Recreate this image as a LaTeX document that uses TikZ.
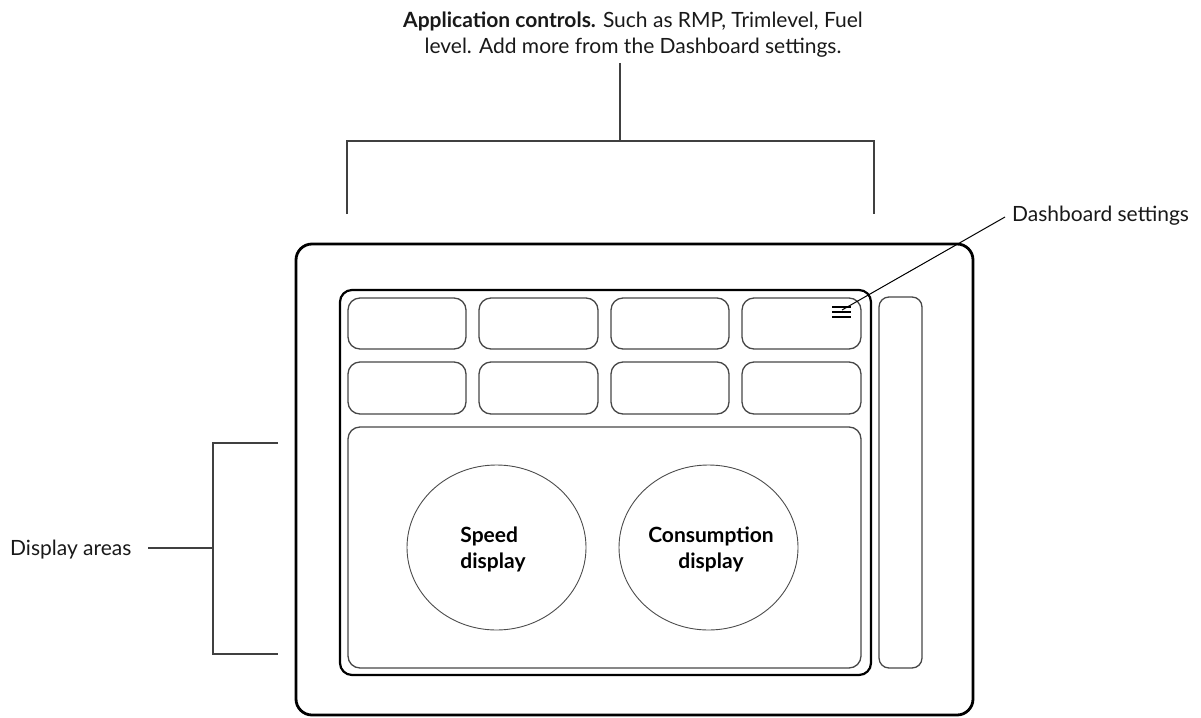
\documentclass[tikz,border=0pt]{standalone}
\usepackage{fontspec}
\setmainfont{Lato}
\usetikzlibrary{shapes.geometric}
\begin{document}
\begin{tikzpicture}[x=1pt,y=-1pt,
  frame/.style={draw=black, line width=2.8pt, rounded corners=16pt},
  panel/.style={draw=black, line width=2.2pt, rounded corners=12pt},
  tile/.style={draw=black!72, line width=1.3pt, rounded corners=12pt},
  brk/.style={draw=black!75, line width=1.2pt},
  lbl/.style={font=\fontsize{21}{26}\selectfont, inner sep=0pt, text=black!90},
  gauge/.style={ellipse, draw=black!70, line width=0.9pt, minimum width=179pt, minimum height=165pt, inner sep=0pt},
  gtext/.style={inner sep=0pt, font=\bfseries\fontsize{21}{26}\selectfont},
  menuline/.style={draw=black, line width=2pt}]
\useasboundingbox (0,0) rectangle (1201,717);
% device
\draw[frame] (296,244) rectangle (973,715);
\draw[panel] (340,290) rectangle (871,675);
% tiles
\foreach \xa/\xb [count=\i] in {348/466,479/598,611/729,742/861}{
  \draw[tile] (\xa,298) rectangle (\xb,349);
  \draw[tile] (\xa,362) rectangle (\xb,414);
}
\draw[tile] (348,427) rectangle (861,668);
\draw[tile, rounded corners=10pt] (879,297) rectangle (922,668);
% gauges
\node[gauge] (speed) at (496.5,547.5) {};
\node[gauge] (cons) at (708.5,547.5) {};
\node[gtext, align=left] (speedlbl) at (493,549) {Speed\\display};
\node[gtext, align=center] (conslbl) at (711,549) {Consumption\\display};
% menu icon
\draw[menuline] (832,307) -- (851,307);
\draw[menuline] (832,312) -- (851,312);
\draw[menuline] (832,317) -- (851,317);
\coordinate (menu) at (842,310);
% dashboard settings label
\node[lbl, anchor=base west] (dash) at (1012,221) {Dashboard settings};
\coordinate (dashend) at (1005,217);
\draw[line width=1pt] (dashend) -- (menu);
% top label & bracket
\node[lbl, align=center, anchor=north] (app) at (633,12) {{\bfseries Application controls.} Such as RMP, Trimlevel, Fuel\\level. Add more from the Dashboard settings.};
\coordinate (stemtop) at (620,63);
\coordinate (stemmid) at (620,141);
\draw[brk] (stemtop) -- (stemmid);
\draw[brk] (347,214) -- (347,141) -- (874,141) -- (874,214);
% left label & bracket
\node[lbl, anchor=base west] (disp) at (10,555) {Display areas};
\coordinate (lstem) at (148,548);
\coordinate (lmid) at (213,548);
\draw[brk] (lstem) -- (lmid);
\draw[brk] (278,443) -- (213,443) -- (213,654) -- (278,654);
\end{tikzpicture}
\end{document}
